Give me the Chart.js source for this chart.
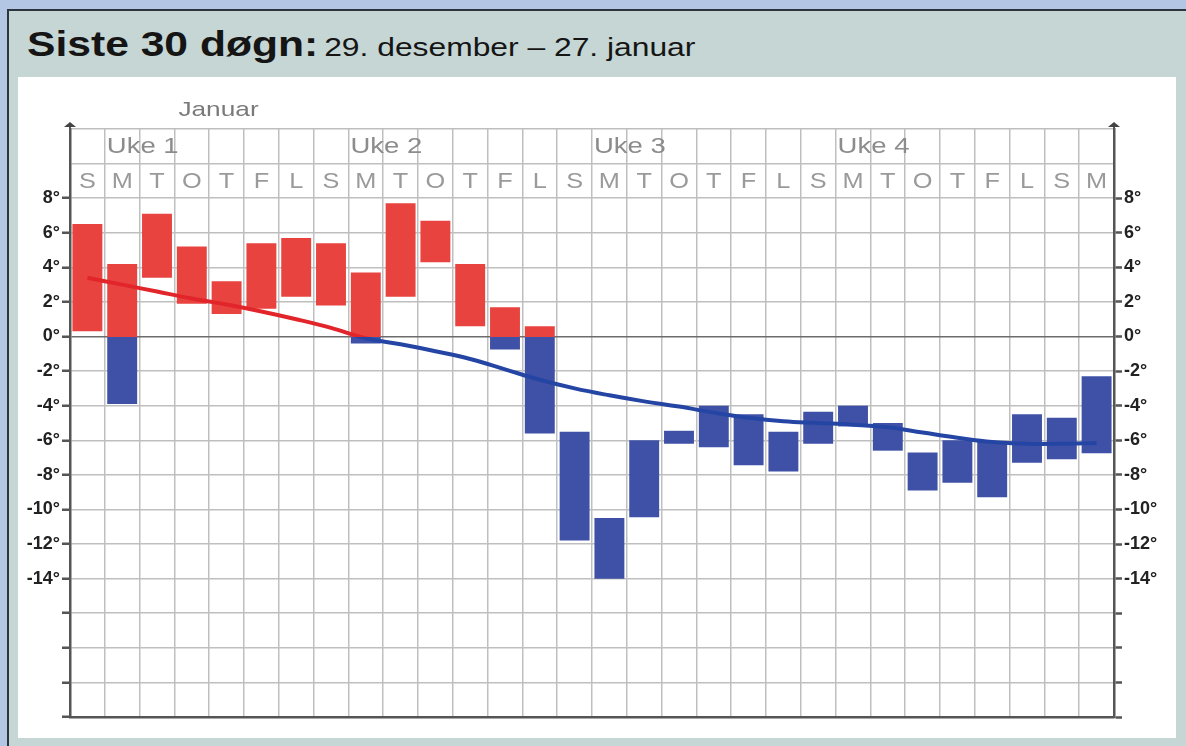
<!DOCTYPE html>
<html>
<head>
<meta charset="utf-8">
<script src="https://cdn.jsdelivr.net/npm/chart.js@4.4.1/dist/chart.umd.min.js"></script>
<style>
  body { margin: 0; background: #b3c6e3; width: 1186px; height: 746px; overflow: hidden; font-family: "Liberation Sans", Arial, sans-serif; }
  .panel { position: absolute; left: 7px; top: 9px; width: 1190px; height: 745px; background: #c6d6d4; border-left: 2px solid #2c3440; border-top: 2px solid #2c3440; }
  .title { position: absolute; left: 18px; top: 13px; color: #151515; white-space: nowrap; transform: scaleX(1.2); transform-origin: left center; }
  .title b { font-size: 35.5px; }
  .title span { font-size: 26.5px; margin-left: 5px; }
  .box { position: absolute; left: 9px; top: 66px; width: 1158px; height: 661px; background: #fff; }
</style>
</head>
<body>
<div class="panel">
  <div class="title"><b>Siste 30 døgn:</b><span>29. desember – 27. januar</span></div>
  <div class="box"><canvas id="chart" width="1158" height="661"></canvas></div>
</div>
<script>
// -------------------------------
// DATA (29. des – 27. jan)
// -------------------------------
const dayLetters = ["S","M","T","O","T","F","L","S","M","T","O","T","F","L","S",
                    "M","T","O","T","F","L","S","M","T","O","T","F","L","S","M"];
const weekLabels = [[1, "Uke 1"], [8, "Uke 2"], [15, "Uke 3"], [22, "Uke 4"]];
const monthLabel = [3, "Januar"];

const maxTemps = [6.5, 4.2, 7.1, 5.2, 3.2, 5.4, 5.7, 5.4, 3.7, 7.7, 6.7, 4.2, 1.7, 0.6, -5.5,
                  -10.5, -6.0, -5.45, -4.0, -4.5, -5.5, -4.35, -4.0, -5.0, -6.7, -6.0, -6.1, -4.5, -4.7, -2.3];
const minTemps = [0.3, -3.9, 3.4, 1.9, 1.3, 1.6, 2.3, 1.8, -0.4, 2.3, 4.3, 0.6, -0.75, -5.6, -11.8,
                  -14.0, -10.45, -6.2, -6.4, -7.45, -7.8, -6.2, -5.2, -6.6, -8.9, -8.45, -9.3, -7.3, -7.1, -6.75];
const normalTemps = [3.4, 3.0, 2.6, 2.2, 1.85, 1.45, 1.0, 0.5, -0.1, -0.45, -0.85, -1.3, -1.9, -2.5, -3.0,
                     -3.4, -3.75, -4.05, -4.4, -4.7, -4.9, -5.0, -5.1, -5.25, -5.55, -5.85, -6.1, -6.2, -6.2, -6.15];

const yTicks = { min: -22, max: 12, step: 2, labelMin: -14, labelMax: 8 };

const RED_BAR = "#e8433f", BLUE_BAR = "#3e51a7";
const RED_LINE = "#e2252a", BLUE_LINE = "#2545a4";
const tickFont = { family: "'Liberation Sans Narrow', 'Liberation Sans', Arial, sans-serif", size: 18, weight: "bold" };

// red above 0°, blue below
function splitColor(chart, above, below) {
  const { ctx, chartArea, scales } = chart;
  if (!chartArea) return above;
  const y0 = scales.y.getPixelForValue(0);
  const s = Math.min(1, Math.max(0, (y0 - chartArea.top) / (chartArea.bottom - chartArea.top)));
  const g = ctx.createLinearGradient(0, chartArea.top, 0, chartArea.bottom);
  g.addColorStop(0, above);
  g.addColorStop(s, above);
  g.addColorStop(s, below);
  g.addColorStop(1, below);
  return g;
}

// text a bit wider than the font, like the original
function wideText(ctx, text, x, y, sx) {
  ctx.save();
  ctx.translate(x, y);
  ctx.scale(sx, 1);
  ctx.fillText(text, 0, 0);
  ctx.restore();
}

// -------------------------------
// HEADER ROWS + AXIS ARROWS
// -------------------------------
const headerPlugin = {
  id: "header",
  afterDraw(chart) {
    const { ctx, chartArea, scales } = chart;
    const x = scales.x, y = scales.y;
    const colW = x.getPixelForValue(1) - x.getPixelForValue(0);
    ctx.save();

    // day letters
    ctx.fillStyle = "#9a9a9a";
    ctx.font = "22px 'Liberation Sans', Arial, sans-serif";
    ctx.textAlign = "center";
    ctx.textBaseline = "middle";
    dayLetters.forEach((d, i) => wideText(ctx, d, x.getPixelForValue(i), y.getPixelForValue(9) + 1, 1.15));

    // weeks
    ctx.fillStyle = "#8c8c8c";
    ctx.textAlign = "left";
    weekLabels.forEach(([i, t]) => {
      const left = x.getPixelForValue(i) - colW / 2 + 2;
      wideText(ctx, t, left, y.getPixelForValue(11) + 1, 1.25);
    });

    // month
    ctx.fillStyle = "#7a7a7a";
    ctx.font = "21px 'Liberation Sans', Arial, sans-serif";
    wideText(ctx, monthLabel[1], x.getPixelForValue(monthLabel[0]) - colW / 2 + 4, chartArea.top - 19, 1.25);

    // arrows on top of both axes
    ctx.fillStyle = "#444";
    ctx.strokeStyle = "#555";
    ctx.lineWidth = 2;
    [chartArea.left, chartArea.right].forEach(ax => {
      ctx.beginPath();
      ctx.moveTo(ax, chartArea.top);
      ctx.lineTo(ax, chartArea.top - 4);
      ctx.stroke();
      ctx.beginPath();
      ctx.moveTo(ax - 6, chartArea.top - 2);
      ctx.lineTo(ax, chartArea.top - 7);
      ctx.lineTo(ax + 6, chartArea.top - 2);
      ctx.closePath();
      ctx.fill();
    });
    ctx.restore();
  }
};

const tickLabel = v => (v >= yTicks.labelMin && v <= yTicks.labelMax ? v + "°" : "");
const tickMarkColor = c => (c.tick && c.tick.value > yTicks.labelMax ? "rgba(0,0,0,0)" : "#555");

new Chart(document.getElementById("chart").getContext("2d"), {
  data: {
    labels: dayLetters,
    datasets: [
      {
        type: "line",
        label: "Normal",
        data: normalTemps,
        order: 0,
        borderWidth: 4,
        tension: 0.4,
        pointRadius: 0,
        borderColor: c => splitColor(c.chart, RED_LINE, BLUE_LINE)
      },
      {
        type: "bar",
        label: "Min/maks",
        data: minTemps.map((lo, i) => [lo, maxTemps[i]]),
        order: 1,
        barPercentage: 0.86,
        categoryPercentage: 1,
        borderWidth: 0,
        borderSkipped: false,
        backgroundColor: c => splitColor(c.chart, RED_BAR, BLUE_BAR)
      }
    ]
  },
  options: {
    responsive: false,
    animation: false,
    devicePixelRatio: 1,
    layout: { padding: { top: 52, bottom: 21, left: 0, right: 0 } },
    plugins: { legend: { display: false }, tooltip: { enabled: false } },
    scales: {
      x: {
        type: "category",
        offset: true,
        ticks: { display: false },
        grid: { offset: true, color: "#bfbfbf", lineWidth: 1.5, drawTicks: false },
        border: { display: true, color: "#555", width: 2.5 },
        afterFit: s => { s.height = 0; }
      },
      y: {
        position: "left",
        min: yTicks.min,
        max: yTicks.max,
        ticks: { stepSize: yTicks.step, callback: tickLabel, color: "#222", font: tickFont, padding: 2 },
        grid: {
          color: c => (c.tick && c.tick.value === 0 ? "#6c6c6c" : "#bfbfbf"),
          lineWidth: 1.5,
          tickLength: 8,
          tickColor: tickMarkColor,
          tickWidth: 2.5
        },
        border: { display: true, color: "#555", width: 2.5 },
        afterFit: s => { s.width = 52; }
      },
      y2: {
        position: "right",
        min: yTicks.min,
        max: yTicks.max,
        ticks: { stepSize: yTicks.step, callback: tickLabel, color: "#222", font: tickFont, padding: 2 },
        grid: { drawOnChartArea: false, tickLength: 8, tickColor: tickMarkColor, tickWidth: 2.5 },
        border: { display: true, color: "#555", width: 2.5 },
        afterFit: s => { s.width = 62; }
      }
    }
  },
  plugins: [headerPlugin]
});
</script>
</body>
</html>
